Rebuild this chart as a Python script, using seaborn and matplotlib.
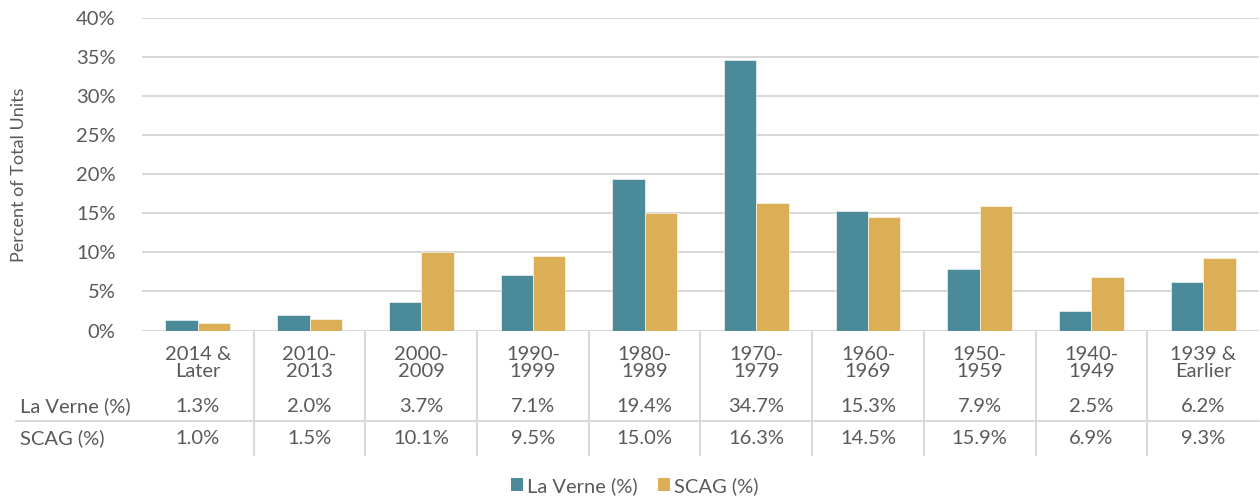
import pandas as pd
import matplotlib
matplotlib.use("Agg")
import matplotlib.pyplot as plt
import matplotlib.transforms as mtransforms
from matplotlib.patches import Patch
import seaborn as sns

# Data
periods = ["2014 &\nLater", "2010-\n2013", "2000-\n2009", "1990-\n1999", "1980-\n1989",
           "1970-\n1979", "1960-\n1969", "1950-\n1959", "1940-\n1949", "1939 &\nEarlier"]
la_verne = [1.3, 2.0, 3.7, 7.1, 19.4, 34.7, 15.3, 7.9, 2.5, 6.2]
scag = [1.0, 1.5, 10.1, 9.5, 15.0, 16.3, 14.5, 15.9, 6.9, 9.3]
series_names = ["La Verne (%)", "SCAG (%)"]
colors = ["#4A8A99", "#DCAF57"]

df = pd.DataFrame({
    "Period": periods * 2,
    "Series": [series_names[0]] * len(periods) + [series_names[1]] * len(periods),
    "Value": la_verne + scag,
})

sns.set_style("white")
plt.rcParams["font.family"] = ["Lato", "DejaVu Sans"]
text_color = "#595959"
grid_color = "#D9D9D9"
fs = 14.5

fig = plt.figure(figsize=(12.6, 4.97), dpi=100)
ax = fig.add_axes([0.1127, 0.335, 0.8865, 0.628])

sns.barplot(data=df, x="Period", y="Value", hue="Series", order=periods,
            hue_order=series_names, palette=colors, width=0.58, saturation=1,
            edgecolor="white", linewidth=0.4, legend=False, ax=ax)

ax.set_ylim(0, 40)
ax.set_xlim(-0.5, len(periods) - 0.5)
ax.set_yticks(range(0, 41, 5))
ax.set_yticklabels([f"{v}%" for v in range(0, 41, 5)], fontsize=fs, color=text_color)
ax.tick_params(axis="y", length=0, pad=19)
ax.set_xticks([])
ax.set_xlabel("")
ax.set_ylabel("Percent of Total Units", fontsize=13, color=text_color)
ax.yaxis.set_label_coords(-0.103, 0.5)
ax.grid(axis="y", color=grid_color, linewidth=1.5)
ax.set_axisbelow(True)
for s in ["top", "right", "left", "bottom"]:
    ax.spines[s].set_visible(False)
ax.axhline(0, color=grid_color, linewidth=1.5, zorder=0.5)

# data table under the axis
trans = mtransforms.blended_transform_factory(ax.transData, fig.transFigure)
def fy(px):
    return 1 - px / 497

for i, p in enumerate(periods):
    ax.text(i, fy(363), p, transform=trans, ha="center", va="center",
            fontsize=fs, color=text_color, linespacing=1.0, clip_on=False)
    ax.text(i, fy(406), f"{la_verne[i]:.1f}%", transform=trans, ha="center", va="center",
            fontsize=fs, color=text_color, clip_on=False)
    ax.text(i, fy(438), f"{scag[i]:.1f}%", transform=trans, ha="center", va="center",
            fontsize=fs, color=text_color, clip_on=False)

for i in range(len(periods) - 1):
    fig.add_artist(plt.Line2D([i + 0.5, i + 0.5], [fy(332), fy(455)], transform=trans,
                              color=grid_color, linewidth=1.5))

fig.add_artist(plt.Line2D([16 / 1260, 1259 / 1260], [fy(421), fy(421)],
                          transform=fig.transFigure, color=grid_color, linewidth=1.5))
fig.text(20 / 1260, fy(406), series_names[0], ha="left", va="center", fontsize=fs, color=text_color)
fig.text(20 / 1260, fy(438), series_names[1], ha="left", va="center", fontsize=fs, color=text_color)

handles = [Patch(facecolor=c, edgecolor="none") for c in colors]
fig.legend(handles, series_names, loc="center", bbox_to_anchor=(0.504, fy(486)), ncol=2,
           frameon=False, fontsize=fs, handlelength=0.6, handleheight=0.6,
           handletextpad=0.2, columnspacing=1.0, labelcolor=text_color)

fig.savefig("out.png", dpi=100)
